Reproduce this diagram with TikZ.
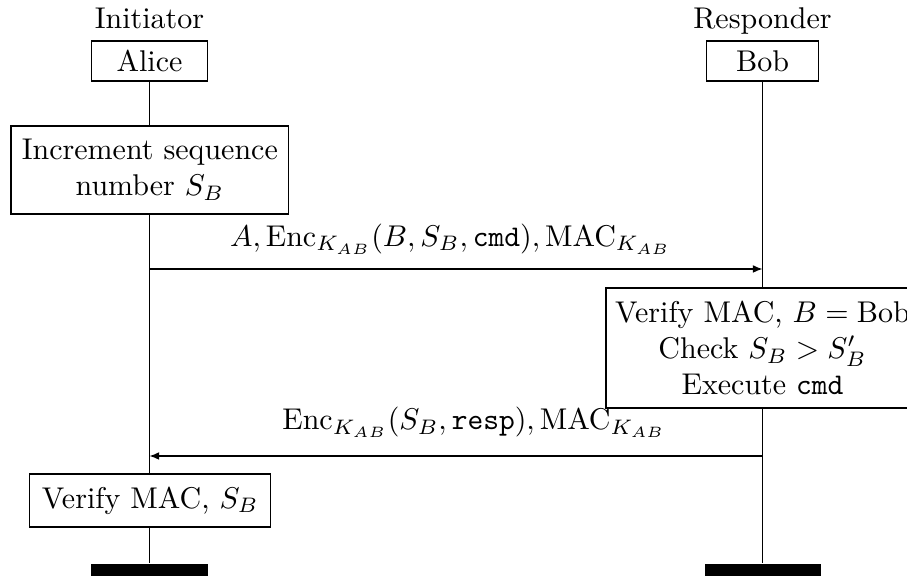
\documentclass[tikz,border=0pt]{standalone}
\usetikzlibrary{arrows.meta}
\begin{document}
\begin{tikzpicture}[x=0.33333pt, y=-0.33333pt,
  actor/.style={draw, fill=white, inner sep=0pt, minimum height=13.33pt},
  action/.style={draw, fill=white, inner sep=0pt, align=center},
  endbar/.style={fill=black, inner sep=0pt, minimum width=38.67pt, minimum height=4pt},
  msg/.style={-{Latex[length=3.2pt,width=2.6pt]}},
  msglabel/.style={anchor=base, inner sep=0pt},
  role/.style={anchor=base, inner sep=0pt}]
\useasboundingbox (0,0) rectangle (907,578);

% actors and their roles
\node[role] (initiator) at (149.5,28.5) {Initiator};
\node[role] (responder) at (762.5,28.5) {Responder};
\node[actor, minimum width=38.67pt] (alice) at (149.5,61) {Alice};
\node[actor, minimum width=37.5pt] (bob) at (762.5,61) {Bob};

% end-of-lifeline bars
\node[endbar] (alicebar) at (149.5,570) {};
\node[endbar] (bobbar) at (762.5,570) {};

% lifelines
\draw (alice.south) -- (alicebar.north);
\draw (bob.south) -- (bobbar.north);

% local actions
\node[action, minimum width=92.6pt, minimum height=29.3pt] (incr) at (149.85,170)
  {Increment sequence\\number $S_B$};
\node[action, minimum width=104.3pt, minimum height=40pt] (verify) at (762.5,348)
  {Verify MAC, $B = \mathrm{Bob}$\\Check $S_B > S'_B$\\Execute \texttt{cmd}};
\node[action, minimum width=80.3pt, minimum height=17.7pt] (check) at (150.3,500.5)
  {Verify MAC, $S_B$};

% messages
\coordinate (a1) at (149.5,269);
\coordinate (b1) at (762.5,269);
\coordinate (b2) at (762.5,456);
\coordinate (a2) at (149.5,456);
\draw[msg] (a1) -- (b1);
\draw[msg] (b2) -- (a2);
\node[msglabel] (m1) at (450.5,246.5)
  {$A, \mathrm{Enc}_{K_{AB}}(B, S_B, \texttt{cmd}), \mathrm{MAC}_{K_{AB}}$};
\node[msglabel] (m2) at (474,430)
  {$\mathrm{Enc}_{K_{AB}}(S_B, \texttt{resp}), \mathrm{MAC}_{K_{AB}}$};
\end{tikzpicture}
\end{document}
